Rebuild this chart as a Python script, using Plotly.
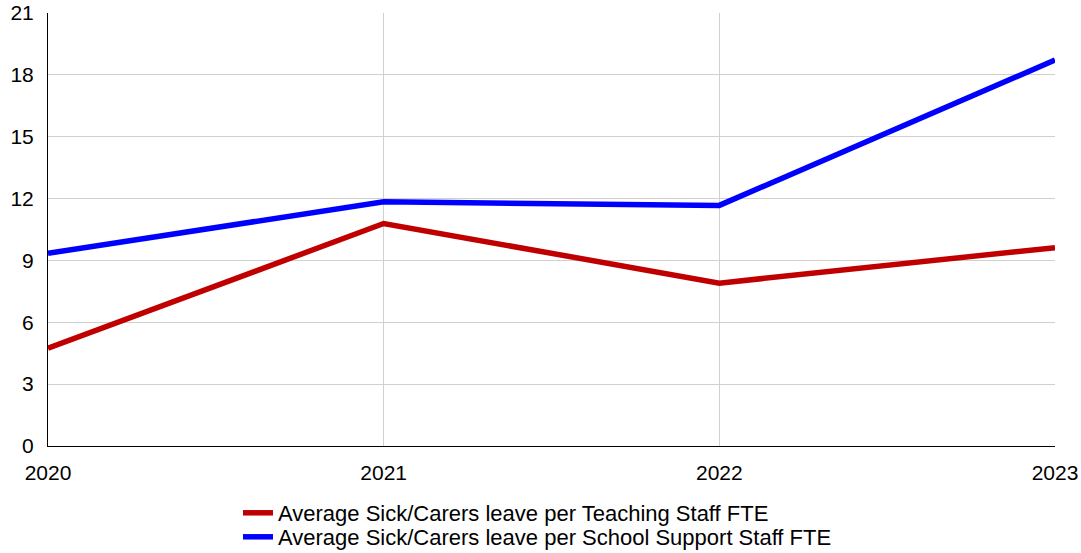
import plotly.graph_objects as go

years = ["2020", "2021", "2022", "2023"]
teaching = [4.74, 10.79, 7.9, 9.62]
support = [9.35, 11.84, 11.67, 18.72]
y_ticks = [0, 3, 6, 9, 12, 15, 18, 21]

fig = go.Figure()
fig.add_trace(go.Scatter(x=[int(y) for y in years], y=teaching, mode="lines",
                         name="Average Sick/Carers leave per Teaching Staff FTE",
                         line=dict(color="#c00000", width=5.5), legend="legend"))
fig.add_trace(go.Scatter(x=[int(y) for y in years], y=support, mode="lines",
                         name="Average Sick/Carers leave per School Support Staff FTE",
                         line=dict(color="#0000ff", width=5.5), legend="legend2"))

font = dict(family="Liberation Sans, Arial", size=21, color="#000000")
legfont = dict(family="Liberation Sans, Arial", size=22, color="#000000")
fig.update_layout(
    width=1081, height=553,
    margin=dict(l=48, r=26, t=13, b=107, autoexpand=False),
    plot_bgcolor="white", paper_bgcolor="white",
    font=font,
    showlegend=True,
    legend=dict(xref="container", yref="container",
                x=238 / 1081, xanchor="left", y=1 - 492 / 553, yanchor="top",
                font=legfont, itemwidth=30, bgcolor="rgba(0,0,0,0)"),
    legend2=dict(xref="container", yref="container",
                 x=238 / 1081, xanchor="left", y=1 - 516 / 553, yanchor="top",
                 font=legfont, itemwidth=30, bgcolor="rgba(0,0,0,0)"),
    xaxis=dict(range=[2020, 2023], tickvals=[int(y) for y in years], ticktext=years,
               showgrid=True, gridcolor="#d0d0d0", gridwidth=1,
               showline=True, linecolor="#000000", linewidth=1,
               zeroline=False, ticks="", ticklen=0, tickfont=font,
               ticklabelstandoff=8),
    yaxis=dict(range=[0, 21], tickvals=y_ticks, showgrid=True, gridcolor="#d0d0d0",
               gridwidth=1, showline=True, linecolor="#000000", linewidth=1,
               zeroline=False, ticks="", tickfont=font, ticklabelstandoff=9),
)
fig.write_html("out.html")
